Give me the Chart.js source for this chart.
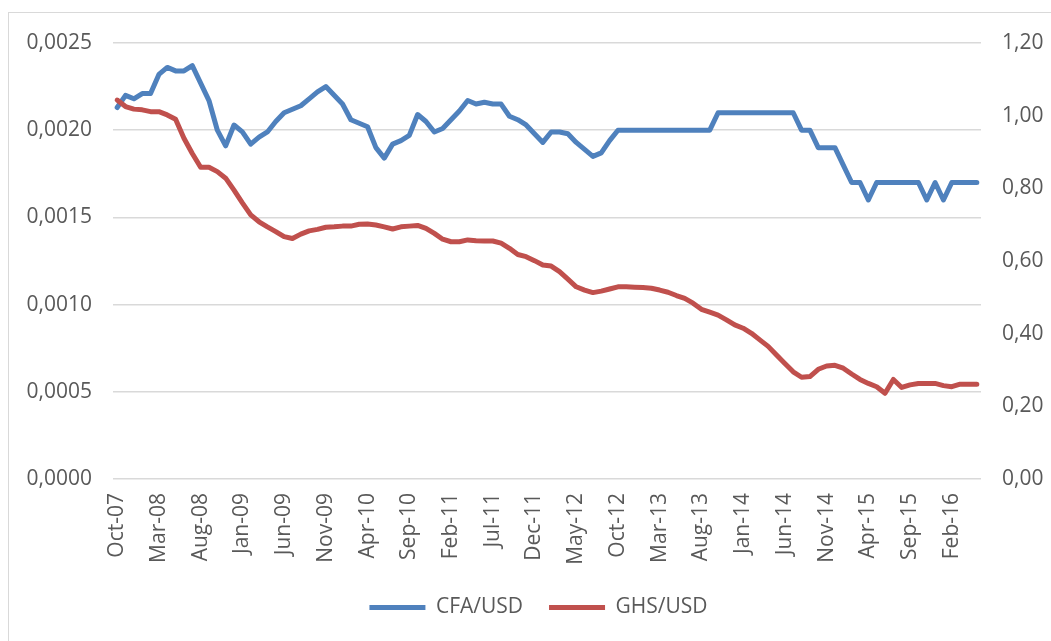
<!DOCTYPE html>
<html>
<head>
<meta charset="utf-8">
<script src="https://cdn.jsdelivr.net/npm/chart.js@4/dist/chart.umd.min.js"></script>
<style>
    body { margin: 0; overflow: hidden; background: #fff; }
    .frame { position: absolute; left: 8px; top: 12px; width: 1200px; height: 800px; border: 1px solid #d9d9d9; }
    #chart { position: absolute; left: 0; top: 0; }
</style>
</head>
<body>
<div class="frame"></div>
<canvas id="chart" width="1051" height="641"></canvas>
<script>
// Monthly categories, Oct-07 .. May-16
const monthNames = ['Jan', 'Feb', 'Mar', 'Apr', 'May', 'Jun', 'Jul', 'Aug', 'Sep', 'Oct', 'Nov', 'Dec'];
const months = [];
for (let y = 2007, m = 9; y < 2016 || m <= 4; m++) {
    if (m > 11) { m = 0; y++; }
    months.push(monthNames[m] + '-' + String(y).slice(2));
}

// CFA/USD (left axis)
const cfaUsd = [
    0.00213, 0.00220, 0.00218, 0.00221, 0.00221, 0.00232, 0.00236, 0.00234, 0.00234, 0.00237,
    0.00227, 0.00217, 0.00200, 0.00191, 0.00203, 0.00199, 0.00192, 0.00196, 0.00199, 0.00205,
    0.00210, 0.00212, 0.00214, 0.00218, 0.00222, 0.00225, 0.00220, 0.00215, 0.00206, 0.00204,
    0.00202, 0.00190, 0.00184, 0.00192, 0.00194, 0.00197, 0.00209, 0.00205, 0.00199, 0.00201,
    0.00206, 0.00211, 0.00217, 0.00215, 0.00216, 0.00215, 0.00215, 0.00208, 0.00206, 0.00203,
    0.00198, 0.00193, 0.00199, 0.00199, 0.00198, 0.00193, 0.00189, 0.00185, 0.00187, 0.00194,
    0.00200, 0.00200, 0.00200, 0.00200, 0.00200, 0.00200, 0.00200, 0.00200, 0.00200, 0.00200,
    0.00200, 0.00200, 0.00210, 0.00210, 0.00210, 0.00210, 0.00210, 0.00210, 0.00210, 0.00210,
    0.00210, 0.00210, 0.00200, 0.00200, 0.00190, 0.00190, 0.00190, 0.00180, 0.00170, 0.00170,
    0.00160, 0.00170, 0.00170, 0.00170, 0.00170, 0.00170, 0.00170, 0.00160, 0.00170, 0.00160,
    0.00170, 0.00170, 0.00170, 0.00170
];

// GHS/USD (right axis)
const ghsUsd = [
    1.043, 1.025, 1.018, 1.016, 1.011, 1.011, 1.002, 0.990, 0.938, 0.896,
    0.858, 0.858, 0.846, 0.828, 0.795, 0.760, 0.727, 0.708, 0.694, 0.681,
    0.667, 0.662, 0.674, 0.683, 0.687, 0.693, 0.694, 0.696, 0.696, 0.701,
    0.702, 0.699, 0.694, 0.688, 0.694, 0.696, 0.698, 0.690, 0.676, 0.660,
    0.653, 0.653, 0.658, 0.656, 0.655, 0.655, 0.649, 0.635, 0.618, 0.612,
    0.601, 0.589, 0.586, 0.571, 0.550, 0.529, 0.520, 0.513, 0.517, 0.523,
    0.529, 0.529, 0.528, 0.527, 0.525, 0.520, 0.514, 0.505, 0.497, 0.484,
    0.467, 0.459, 0.451, 0.438, 0.424, 0.415, 0.401, 0.383, 0.365, 0.341,
    0.318, 0.295, 0.280, 0.282, 0.302, 0.311, 0.313, 0.305, 0.289, 0.274,
    0.263, 0.254, 0.236, 0.274, 0.252, 0.259, 0.263, 0.263, 0.263, 0.257,
    0.254, 0.261, 0.261, 0.261
];

const leftTicks = { min: 0, max: 0.0025, step: 0.0005 };
const rightTicks = { min: 0, max: 1.2, step: 0.2 };

const textColor = '#595959';
const gridColor = '#d9d9d9';
const font = { family: '"Open Sans", sans-serif', size: 21 };

new Chart(document.getElementById('chart'), {
    type: 'line',
    data: {
        labels: months,
        datasets: [{
            label: 'CFA/USD',
            data: cfaUsd,
            yAxisID: 'y',
            borderColor: '#4f81bd',
            backgroundColor: '#4f81bd',
            borderWidth: 5,
            borderCapStyle: 'round',
            borderJoinStyle: 'round',
            pointRadius: 0,
            tension: 0,
            order: 1
        }, {
            label: 'GHS/USD',
            data: ghsUsd,
            yAxisID: 'y1',
            borderColor: '#c0504d',
            backgroundColor: '#c0504d',
            borderWidth: 5,
            borderCapStyle: 'round',
            borderJoinStyle: 'round',
            pointRadius: 0,
            tension: 0,
            order: 0
        }]
    },
    options: {
        responsive: false,
        animation: false,
        devicePixelRatio: 1,
        layout: { padding: { left: 26, right: 0, top: 43, bottom: 13 } },
        plugins: {
            tooltip: { enabled: false },
            legend: {
                position: 'bottom',
                labels: {
                    usePointStyle: true,
                    pointStyle: 'line',
                    pointStyleWidth: 56,
                    padding: 26,
                    color: textColor,
                    font: font,
                    sort: (a, b) => a.datasetIndex - b.datasetIndex
                }
            }
        },
        scales: {
            x: {
                offset: true,
                grid: { display: false, drawTicks: false },
                border: { display: false },
                ticks: {
                    autoSkip: false,
                    maxRotation: 90,
                    minRotation: 90,
                    padding: 14,
                    color: textColor,
                    font: font,
                    callback: function(val, idx) {
                        return idx % 5 === 0 ? this.getLabelForValue(val) : null;
                    }
                },
                afterFit: function(scale) { scale.height = 92; }
            },
            y: {
                position: 'left',
                min: leftTicks.min,
                max: leftTicks.max,
                grid: { color: gridColor, lineWidth: 1.5, drawTicks: false },
                border: { display: false },
                ticks: {
                    stepSize: leftTicks.step,
                    padding: 21,
                    color: textColor,
                    font: font,
                    callback: v => v.toFixed(4).replace('.', ',')
                },
                afterFit: function(scale) { scale.width = 87; }
            },
            y1: {
                position: 'right',
                min: rightTicks.min,
                max: rightTicks.max,
                grid: { drawOnChartArea: false, drawTicks: false },
                border: { display: false },
                ticks: {
                    stepSize: rightTicks.step,
                    padding: 21,
                    color: textColor,
                    font: font,
                    callback: v => v.toFixed(2).replace('.', ',')
                },
                afterFit: function(scale) { scale.width = 70; }
            }
        }
    }
});
</script>
</body>
</html>
